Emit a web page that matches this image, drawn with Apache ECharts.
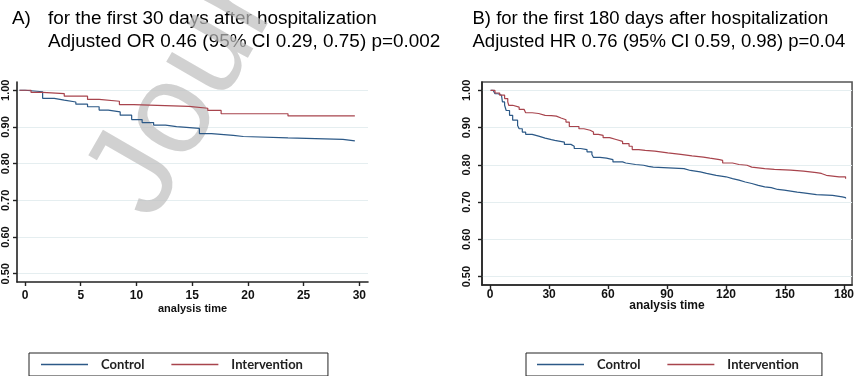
<!DOCTYPE html>
<html><head><meta charset="utf-8">
<script src="https://cdn.jsdelivr.net/npm/echarts@6/dist/echarts.min.js"></script>
<style>html,body{margin:0;padding:0;background:#fff}#c{width:857px;height:376px}</style>
</head><body><div id="c"></div>
<script>
// ---- text ----
const titleA_label = 'A)';
const titleA_lines = ['for the first 30 days after hospitalization', 'Adjusted OR 0.46 (95% CI 0.29, 0.75) p=0.002'];
const titleB_lines = ['B) for the first 180 days after hospitalization', 'Adjusted HR 0.76 (95% CI 0.59, 0.98) p=0.04'];
const seriesNames = ['Control', 'Intervention'];
const xAxisTitle = 'analysis time';
const watermarkText = 'Journal Pre-proof';
// ---- tick labels ----
const xTicksA = [0, 5, 10, 15, 20, 25, 30];
const xTicksB = [0, 30, 60, 90, 120, 150, 180];
const yTicks = [0.5, 0.6, 0.7, 0.8, 0.9, 1.0];
// ---- panel A: first 30 days ----
const tA_control = [-0.5, 0.0, 1.58, 2.62, 3.52, 4.56, 5.61, 6.65, 7.47, 8.54, 9.57, 10.51, 11.54, 12.61, 13.6, 15.65, 16.73, 18.69, 19.59, 23.6, 28.53, 29.6];
const sA_control = [1.000, 0.996, 0.978, 0.973, 0.968, 0.962, 0.955, 0.946, 0.941, 0.932, 0.920, 0.912, 0.905, 0.901, 0.896, 0.882, 0.877, 0.874, 0.870, 0.866, 0.862, 0.862];
const tA_interv = [-0.5, 0.54, 1.58, 3.52, 5.61, 6.65, 8.47, 9.75, 14.7, 16.4, 17.6, 23.6, 29.6];
const sA_interv = [1.000, 0.994, 0.991, 0.984, 0.975, 0.970, 0.961, 0.956, 0.951, 0.945, 0.936, 0.930, 0.930];
// ---- panel B: first 180 days ----
const tB_control = [0.3, 1.6, 2.5, 4.1, 5.8, 6.3, 7.4, 8.2, 9.9, 11.5, 14.0, 14.8, 16.4, 18.1, 21.4, 24.7, 28.0, 31.2, 32.9, 37.8, 41.1, 42.8, 46.0, 49.3, 51.8, 52.6, 55.9, 59.2, 62.5, 67.4, 69.0, 74.0, 78.1, 80.5, 83.0, 98.6, 101.9, 106.9, 110.1, 115.0, 120.0, 123.3, 126.6, 129.8, 133.1, 136.4, 139.7, 143.0, 146.3, 149.6, 156.2, 159.4, 166.0, 174.2, 179.1, 180.8];
const sB_control = [1.000, 0.995, 0.991, 0.987, 0.982, 0.969, 0.960, 0.946, 0.933, 0.920, 0.906, 0.897, 0.888, 0.882, 0.877, 0.872, 0.868, 0.866, 0.861, 0.855, 0.850, 0.844, 0.841, 0.835, 0.828, 0.820, 0.818, 0.814, 0.808, 0.805, 0.801, 0.799, 0.796, 0.794, 0.790, 0.785, 0.781, 0.777, 0.772, 0.768, 0.763, 0.759, 0.754, 0.750, 0.745, 0.741, 0.739, 0.734, 0.732, 0.727, 0.725, 0.720, 0.718, 0.714, 0.712, 0.710];
const tB_interv = [0.3, 2.5, 4.9, 7.4, 9.0, 9.5, 11.5, 14.8, 17.3, 18.1, 21.4, 24.7, 28.0, 31.2, 33.7, 36.1, 38.6, 40.3, 45.2, 47.7, 50.9, 52.6, 55.1, 57.5, 60.8, 64.1, 67.4, 70.7, 72.3, 75.6, 78.9, 83.8, 90.4, 97.0, 102.7, 108.5, 111.8, 116.7, 118.3, 123.3, 126.6, 130.7, 133.1, 139.7, 144.6, 152.9, 159.4, 166.0, 168.5, 171.0, 177.5, 180.8];
const sB_interv = [1.000, 0.993, 0.987, 0.978, 0.969, 0.960, 0.955, 0.949, 0.945, 0.940, 0.938, 0.933, 0.932, 0.931, 0.926, 0.921, 0.915, 0.903, 0.897, 0.893, 0.888, 0.882, 0.879, 0.873, 0.868, 0.863, 0.857, 0.850, 0.841, 0.839, 0.837, 0.832, 0.828, 0.824, 0.821, 0.818, 0.814, 0.812, 0.805, 0.801, 0.799, 0.794, 0.790, 0.788, 0.786, 0.783, 0.779, 0.777, 0.772, 0.768, 0.768, 0.763];

const colors = ['#2c5987', '#a8444d'];
const zip = (t, s) => t.map((v, i) => [v, s[i]]);

const chart = echarts.init(document.getElementById('c'), null, { renderer: 'canvas' });

const axisFont = { fontFamily: 'Liberation Sans', fontWeight: 'bold', color: '#111' };
function xAxis(idx, min, max, ticks, fs, margin, nameGap, nameFs) {
  return {
    type: 'value', gridIndex: idx, min: min, max: max,
    name: xAxisTitle, nameLocation: 'middle', nameGap: nameGap, nameMoveOverlap: false,
    nameTextStyle: Object.assign({ fontSize: nameFs }, axisFont),
    axisLine: { show: true, onZero: false, lineStyle: { color: '#222', width: 1.6 } },
    axisTick: { show: true, length: 4, customValues: ticks, lineStyle: { color: '#222', width: 1.4 } },
    axisLabel: Object.assign({ fontSize: fs, margin: margin, customValues: ticks, formatter: v => String(v) }, axisFont),
    splitLine: { show: false }
  };
}
function yAxis(idx, margin) {
  return {
    type: 'value', gridIndex: idx, min: 0.4775, max: 1.0225,
    axisLine: { show: true, onZero: false, lineStyle: { color: '#222', width: 1.6 } },
    axisTick: { show: true, length: 4, customValues: yTicks, lineStyle: { color: '#222', width: 1.4 } },
    axisLabel: Object.assign({ fontSize: 11, margin: margin, rotate: 90, customValues: yTicks, formatter: v => v.toFixed(2) }, axisFont),
    splitLine: { show: true, lineStyle: { color: '#e5eef0', width: 1 } }
  };
}
function line(name, xi, data, color) {
  return {
    type: 'line', name: name, xAxisIndex: xi, yAxisIndex: xi, data: data,
    step: 'end', showSymbol: false, symbol: 'none', silent: true, animation: false,
    lineStyle: { color: color, width: 1.2 }, itemStyle: { color: color }, z: 3
  };
}
const titleStyleA = { fontFamily: 'Liberation Sans', fontSize: 18.9, fontWeight: 'normal', color: '#000', lineHeight: 23 };
const titleStyleB = { fontFamily: 'Liberation Sans', fontSize: 18.5, fontWeight: 'normal', color: '#000', lineHeight: 23 };
const legendBase = {
  orient: 'horizontal', icon: 'rect', itemWidth: 47, itemHeight: 1.5, itemGap: 27,
  selectedMode: false, borderColor: '#222', borderWidth: 1, borderRadius: 0,
  textStyle: { fontFamily: 'Lato', fontWeight: 'bold', fontSize: 13, color: '#222', padding: [0, 0, 0, 8] },
  data: seriesNames
};

chart.setOption({
  animation: false,
  backgroundColor: '#fff',
  color: colors,
  title: [
    { text: titleA_label, left: 12, top: 7, padding: 0, z: 1, textStyle: titleStyleA },
    { text: titleA_lines.join('\n'), left: 48, top: 7, padding: 0, z: 1, textStyle: titleStyleA },
    { text: titleB_lines.join('\n'), left: 472.5, top: 7, padding: 0, z: 1, textStyle: titleStyleB }
  ],
  grid: [
    { left: 16, top: 82, width: 352, height: 200, show: false },
    { left: 482, top: 82, width: 381.7, height: 203, show: true, borderColor: '#555', borderWidth: 1.6, backgroundColor: 'transparent' }
  ],
  xAxis: [ xAxis(0, -0.72, 30.78, xTicksA, 12, 8, 21, 11), xAxis(1, -4.1, 184.1, xTicksB, 12, 4, 15, 12) ],
  yAxis: [ yAxis(0, 6), yAxis(1, 10) ],
  legend: [
    Object.assign({}, legendBase, { left: 29, top: 353, padding: [5, 25, 5, 12] }),
    Object.assign({}, legendBase, { left: 526, top: 353, padding: [5, 23, 5, 11] })
  ],
  graphic: [{
    type: 'text', x: 178, y: 237, rotation: 60 * Math.PI / 180, z: 2, silent: true,
    style: { text: watermarkText, font: '130px "Liberation Sans"', fill: '#bdbdbd', opacity: 0.7, align: 'left', verticalAlign: 'bottom' }
  }],
  series: [
    line(seriesNames[0], 0, zip(tA_control, sA_control), colors[0]),
    line(seriesNames[1], 0, zip(tA_interv, sA_interv), colors[1]),
    line(seriesNames[0], 1, zip(tB_control, sB_control), colors[0]),
    line(seriesNames[1], 1, zip(tB_interv, sB_interv), colors[1])
  ]
});
</script></body></html>
